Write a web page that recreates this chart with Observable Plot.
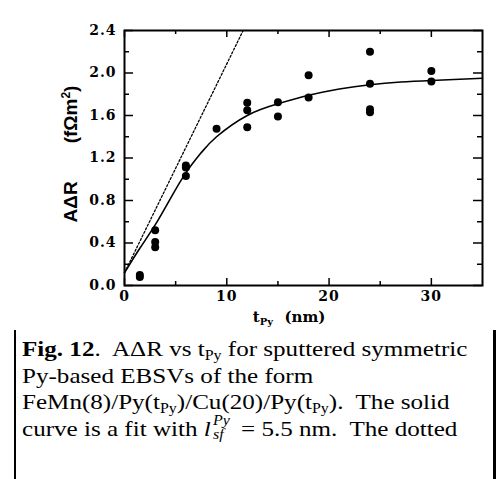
<!DOCTYPE html>
<html>
<head>
<meta charset="utf-8">
<script src="https://cdn.jsdelivr.net/npm/d3@7"></script>
<script src="https://cdn.jsdelivr.net/npm/@observablehq/plot@0.6"></script>
<style>
  html, body { margin: 0; padding: 0; background: #fff; }
  #page { position: relative; width: 498px; height: 479px; overflow: hidden; background: #fff; }
  #box { position: absolute; left: 14px; top: 0; width: 477px; height: 500px;
         border-left: 2px solid #000; border-top: 2px solid #000; border-right: 3px solid #000; }
  #chart { position: absolute; left: 0; top: 0; }
  #caption { position: absolute; left: 22px; top: 336px; width: 420px;
             font-family: "Liberation Serif", "Times New Roman", serif; font-size: 22px;
             line-height: 26.7px; color: #000; white-space: nowrap;
             transform: scaleX(1.14); transform-origin: 0 0; }
  #caption .ln { display: block; height: 26.7px; }
  #caption sub { font-size: 14px; vertical-align: -4px; line-height: 0; }
  .stk { position: relative; display: inline-block; width: 21px; height: 10px; font-style: italic; }
  .stk .sp { position: absolute; left: 2px; top: -11px; font-size: 14px; line-height: 12px; }
  .stk .sb { position: absolute; left: 2px; top: 2.5px; font-size: 14px; line-height: 12px; }
</style>
</head>
<body>
<div id="page">
  <div id="box"></div>
  <div id="chart"></div>
  <div id="caption">
    <span class="ln"><b>Fig. 12</b>.&nbsp; AΔR vs t<sub>Py</sub> for sputtered symmetric</span>
    <span class="ln">Py-based EBSVs of the form</span>
    <span class="ln">FeMn(8)/Py(t<sub>Py</sub>)/Cu(20)/Py(t<sub>Py</sub>).&nbsp; The solid</span>
    <span class="ln">curve is a fit with <i>l</i><span class="stk"><span class="sp">Py</span><span class="sb">sf</span></span> = 5.5 nm.&nbsp; The dotted</span>
  </div>
</div>
<script>
// Measured A·ΔR (fΩm²) against Py thickness t_Py (nm)
const tPy = [1.5, 1.5, 3, 3, 3, 6, 6, 6, 9, 12, 12, 12, 15, 15, 18, 18, 24, 24, 24, 24, 30, 30];
const aDR = [0.08, 0.10, 0.52, 0.41, 0.36, 1.13, 1.11, 1.03, 1.475, 1.72, 1.65, 1.49, 1.725, 1.59, 1.98, 1.77, 2.20, 1.90, 1.66, 1.63, 2.02, 1.92];

// Solid fit curve, sampled along its length
const fitT = [0, 1.5, 3, 4.5, 6, 7.5, 9, 12, 15, 18, 21, 24, 27, 30, 35];
const fitV = [0.12, 0.35, 0.57, 0.82, 1.06, 1.25, 1.40, 1.60, 1.71, 1.79, 1.85, 1.89, 1.915, 1.93, 1.95];

// Dotted small-thickness line
const lineT = [0, 11.6];
const lineV = [0.12, 2.4];

// Axis ticks
const xMajor = [0, 10, 20, 30];
const xMinor = [5, 15, 25];
const yMajor = [0, 0.4, 0.8, 1.2, 1.6, 2.0, 2.4];
const yMinor = [0.2, 0.6, 1.0, 1.4, 1.8, 2.2];

const W = 498, H = 330, mL = 124, mR = 16, mT = 30, mB = 45;
const iw = W - mL - mR, ih = H - mT - mB;

const points = tPy.map((t, i) => ({t, v: aDR[i]}));
const fit = fitT.map((t, i) => ({t, v: fitV[i]}));
const lin = lineT.map((t, i) => ({t, v: lineV[i]}));

const chart = Plot.plot({
  width: W, height: H,
  marginLeft: mL, marginRight: mR, marginTop: mT, marginBottom: mB,
  style: {fontFamily: "DejaVu Serif", fontSize: "14px", fontWeight: "bold", color: "#000", background: "#fff"},
  x: {domain: [0, 35]},
  y: {domain: [0, 2.4]},
  marks: [
    Plot.axisX(xMajor, {tickSize: 0, tickPadding: 6, label: null, tickFormat: d => String(d)}),
    Plot.axisY(yMajor, {tickSize: 0, tickPadding: 8, label: null, tickFormat: d => d.toFixed(1)}),
    // inward ticks on all four sides
    Plot.tickX(xMajor, {x: d => d, insetTop: ih - 7, strokeWidth: 1.5}),
    Plot.tickX(xMinor, {x: d => d, insetTop: ih - 4, strokeWidth: 1.5}),
    Plot.tickX(xMajor, {x: d => d, insetBottom: ih - 7, strokeWidth: 1.5}),
    Plot.tickX(xMinor, {x: d => d, insetBottom: ih - 4, strokeWidth: 1.5}),
    Plot.tickY(yMajor, {y: d => d, insetRight: iw - 9, strokeWidth: 1.5}),
    Plot.tickY(yMinor, {y: d => d, insetRight: iw - 5, strokeWidth: 1.5}),
    Plot.tickY(yMajor, {y: d => d, insetLeft: iw - 9, strokeWidth: 1.5}),
    Plot.tickY(yMinor, {y: d => d, insetLeft: iw - 5, strokeWidth: 1.5}),
    Plot.line(lin, {x: "t", y: "v", stroke: "#000", strokeWidth: 1.3, strokeDasharray: "2,2", clip: true}),
    Plot.line(fit, {x: "t", y: "v", stroke: "#000", strokeWidth: 1.6, curve: "natural"}),
    Plot.dot(points, {x: "t", y: "v", r: 4, fill: "#000", stroke: "none"}),
    Plot.frame({stroke: "#000", strokeWidth: 2})
  ]
});
document.getElementById("chart").appendChild(chart);

const svg = d3.select(chart);
// slightly spaced tick numerals
svg.selectAll('g[aria-label$="tick label"] text').attr("letter-spacing", "1px");

// Axis titles with sub/superscripts
const xt = svg.append("text")
  .attr("x", 263).attr("y", 322)
  .attr("font-family", "DejaVu Serif").attr("font-weight", "bold").attr("font-size", 15);
xt.append("tspan").text("t");
xt.append("tspan").attr("font-size", 10).attr("dy", 3).text("Py");
xt.append("tspan").attr("dy", -3).attr("x", 305).text("(nm)");

const yt = svg.append("text")
  .attr("transform", "translate(77,154) rotate(-90)")
  .attr("text-anchor", "middle")
  .attr("font-family", "Liberation Sans").attr("font-weight", "bold").attr("font-size", 19);
yt.append("tspan").text("AΔR\u2003\u2003(fΩm");
yt.append("tspan").attr("font-size", 12).attr("dy", -7).text("2");
yt.append("tspan").attr("dy", 7).text(")");
</script>
</body>
</html>
